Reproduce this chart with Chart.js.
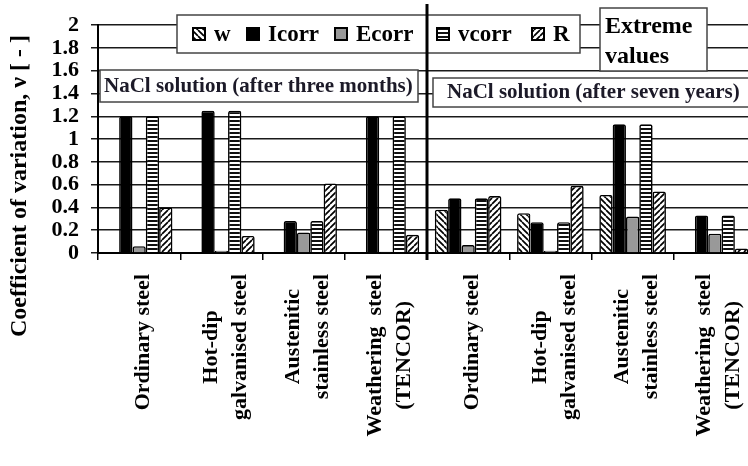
<!DOCTYPE html>
<html>
<head>
<meta charset="utf-8">
<script src="https://cdn.jsdelivr.net/npm/chart.js@4.4.0/dist/chart.umd.min.js"></script>
<style>
  html, body { margin: 0; padding: 0; background: #fff; overflow: hidden; }
  #wrap { width: 758px; height: 466px; }
</style>
</head>
<body>
<div id="wrap"><canvas id="c" width="758" height="466"></canvas></div>
<script>
// Steel types, first four after three months, last four after seven years
const categories = [
  ['Ordinary steel'],
  ['Hot-dip', 'galvanised steel'],
  ['Austenitic', 'stainless steel'],
  ['Weathering  steel', '(TENCOR)'],
  ['Ordinary steel'],
  ['Hot-dip', 'galvanised steel'],
  ['Austenitic', 'stainless steel'],
  ['Weathering  steel', '(TENCOR)']
];
const seriesNames = ['w', 'Icorr', 'Ecorr', 'vcorr', 'R'];
const wValues     = [null, null, null, null, 0.38, 0.35, 0.51, null];
const icorrValues = [1.20, 1.25, 0.28, 1.20, 0.48, 0.27, 1.13, 0.33];
const ecorrValues = [0.06, 0.02, 0.18, 0.01, 0.07, 0.02, 0.32, 0.17];
const vcorrValues = [1.20, 1.25, 0.28, 1.20, 0.48, 0.27, 1.13, 0.33];
const rValues     = [0.40, 0.15, 0.61, 0.16, 0.50, 0.59, 0.54, 0.04];
const yTicks = [0, 0.2, 0.4, 0.6, 0.8, 1, 1.2, 1.4, 1.6, 1.8, 2];
const panelTitles = ['NaCl solution (after three months)', 'NaCl solution (after seven years)'];
const noteLines = ['Extreme', 'values'];
const yTitle = 'Coefficient of variation, \u03bd [ - ]';

const SERIF = '"Liberation Serif", "Times New Roman", serif';

// Hatch fills
function makePattern(kind) {
  const s = kind === 'h' ? 4 : 6;
  const c = document.createElement('canvas');
  c.width = s; c.height = s;
  const g = c.getContext('2d');
  g.fillStyle = '#fff';
  g.fillRect(0, 0, s, s);
  g.strokeStyle = '#000';
  g.fillStyle = '#111';
  g.lineWidth = 1.7;
  if (kind === 'h') {
    g.fillRect(0, 0, s, 2);
  } else {
    g.beginPath();
    for (let x0 = -s; x0 <= s; x0 += s) {
      if (kind === 'back') { g.moveTo(x0, 0); g.lineTo(x0 + s, s); }
      else { g.moveTo(x0, s); g.lineTo(x0 + s, 0); }
    }
    g.stroke();
  }
  return g.createPattern(c, 'repeat');
}

const fills = [makePattern('back'), '#000', '#999999', makePattern('h'), makePattern('fwd')];
const seriesValues = [wValues, icorrValues, ecorrValues, vcorrValues, rValues];

const datasets = seriesNames.map((name, i) => ({
  label: name,
  data: seriesValues[i],
  backgroundColor: fills[i],
  borderColor: '#000',
  borderWidth: 1.6,
  borderRadius: 2,
  borderSkipped: 'start'
}));

function box(ctx, x, y, w, h) {
  ctx.fillStyle = '#fff';
  ctx.fillRect(x, y, w, h);
  ctx.strokeStyle = '#444';
  ctx.lineWidth = 1.5;
  ctx.strokeRect(x, y, w, h);
}

// x position of each legend swatch
const legendX = [193, 247, 335, 437, 532];

const overlay = {
  id: 'overlay',
  afterDraw(chart) {
    const { ctx, chartArea, scales: { x } } = chart;
    ctx.save();

    // Y axis title
    ctx.save();
    ctx.translate(20, 186);
    ctx.rotate(-Math.PI / 2);
    ctx.font = 'bold 24px ' + SERIF;
    ctx.fillStyle = '#000';
    ctx.textAlign = 'center';
    ctx.textBaseline = 'middle';
    ctx.fillText(yTitle, 0, 0);
    ctx.restore();

    // Category labels, rotated, lines centred within each block
    ctx.font = 'bold 22px ' + SERIF;
    ctx.fillStyle = '#000';
    categories.forEach((lines, i) => {
      const cx = x.getPixelForValue(i) + 4;
      const maxW = Math.max(...lines.map(t => ctx.measureText(t).width));
      const n = lines.length;
      lines.forEach((t, j) => {
        ctx.save();
        ctx.translate(cx + (j - (n - 1) / 2) * 29, chartArea.bottom + 21 + maxW / 2);
        ctx.rotate(-Math.PI / 2);
        ctx.textAlign = 'center';
        ctx.textBaseline = 'middle';
        ctx.fillText(t, 0, 0);
        ctx.restore();
      });
    });

    // Legend
    box(ctx, 177, 15, 403, 38);
    ctx.font = 'bold 23px ' + SERIF;
    ctx.textBaseline = 'middle';
    ctx.textAlign = 'left';
    chart.data.datasets.forEach((ds, i) => {
      const lx = legendX[i];
      ctx.fillStyle = ds.backgroundColor;
      ctx.fillRect(lx, 28, 12, 12);
      ctx.strokeStyle = '#000';
      ctx.lineWidth = 2;
      ctx.strokeRect(lx, 28, 12, 12);
      ctx.fillStyle = '#000';
      ctx.fillText(ds.label, lx + 21, 35);
    });

    // Note box
    box(ctx, 600, 8, 107, 63);
    ctx.font = 'bold 24px ' + SERIF;
    ctx.fillStyle = '#000';
    ctx.textBaseline = 'alphabetic';
    ctx.fillText(noteLines[0], 605, 33);
    ctx.fillText(noteLines[1], 605, 63);

    // Panel titles
    box(ctx, 100, 70, 318, 32);
    box(ctx, 433, 78, 320, 29);
    ctx.font = 'bold 21px ' + SERIF;
    ctx.fillStyle = '#1c1a28';
    ctx.textBaseline = 'middle';
    ctx.fillText(panelTitles[0], 104, 87);
    ctx.fillText(panelTitles[1], 447, 93);

    // Separator between the two exposure periods
    const sepX = (x.getPixelForValue(3) + x.getPixelForValue(4)) / 2;
    ctx.strokeStyle = '#000';
    ctx.lineWidth = 3;
    ctx.beginPath();
    ctx.moveTo(sepX, 4);
    ctx.lineTo(sepX, chartArea.bottom + 7);
    ctx.stroke();

    ctx.restore();
  }
};

new Chart(document.getElementById('c'), {
  type: 'bar',
  data: { labels: categories.map(l => l.join(' ')), datasets },
  plugins: [overlay],
  options: {
    responsive: false,
    animation: false,
    layout: { padding: { left: 38, top: 20, right: 2, bottom: 0 } },
    datasets: { bar: { categoryPercentage: 0.81, barPercentage: 1 } },
    plugins: { legend: { display: false }, tooltip: { enabled: false } },
    scales: {
      x: {
        grid: { drawOnChartArea: false, drawTicks: true, tickLength: 7, color: '#000', lineWidth: 1.5, offset: true },
        border: { display: true, color: '#000', width: 2 },
        ticks: { display: false },
        afterFit(s) { s.height = 213; }
      },
      y: {
        min: 0,
        max: 2,
        afterBuildTicks(s) { s.ticks = yTicks.map(v => ({ value: v })); },
        grid: { color: '#1a1a1a', lineWidth: 1.5, tickLength: 7 },
        border: { color: '#000', width: 2 },
        ticks: {
          autoSkip: false,
          font: { family: SERIF, weight: 'bold', size: 22 },
          color: '#000',
          padding: 12,
          callback: v => String(Math.round(v * 10) / 10)
        },
        afterFit(s) { s.width = 60; }
      }
    }
  }
});
</script>
</body>
</html>
